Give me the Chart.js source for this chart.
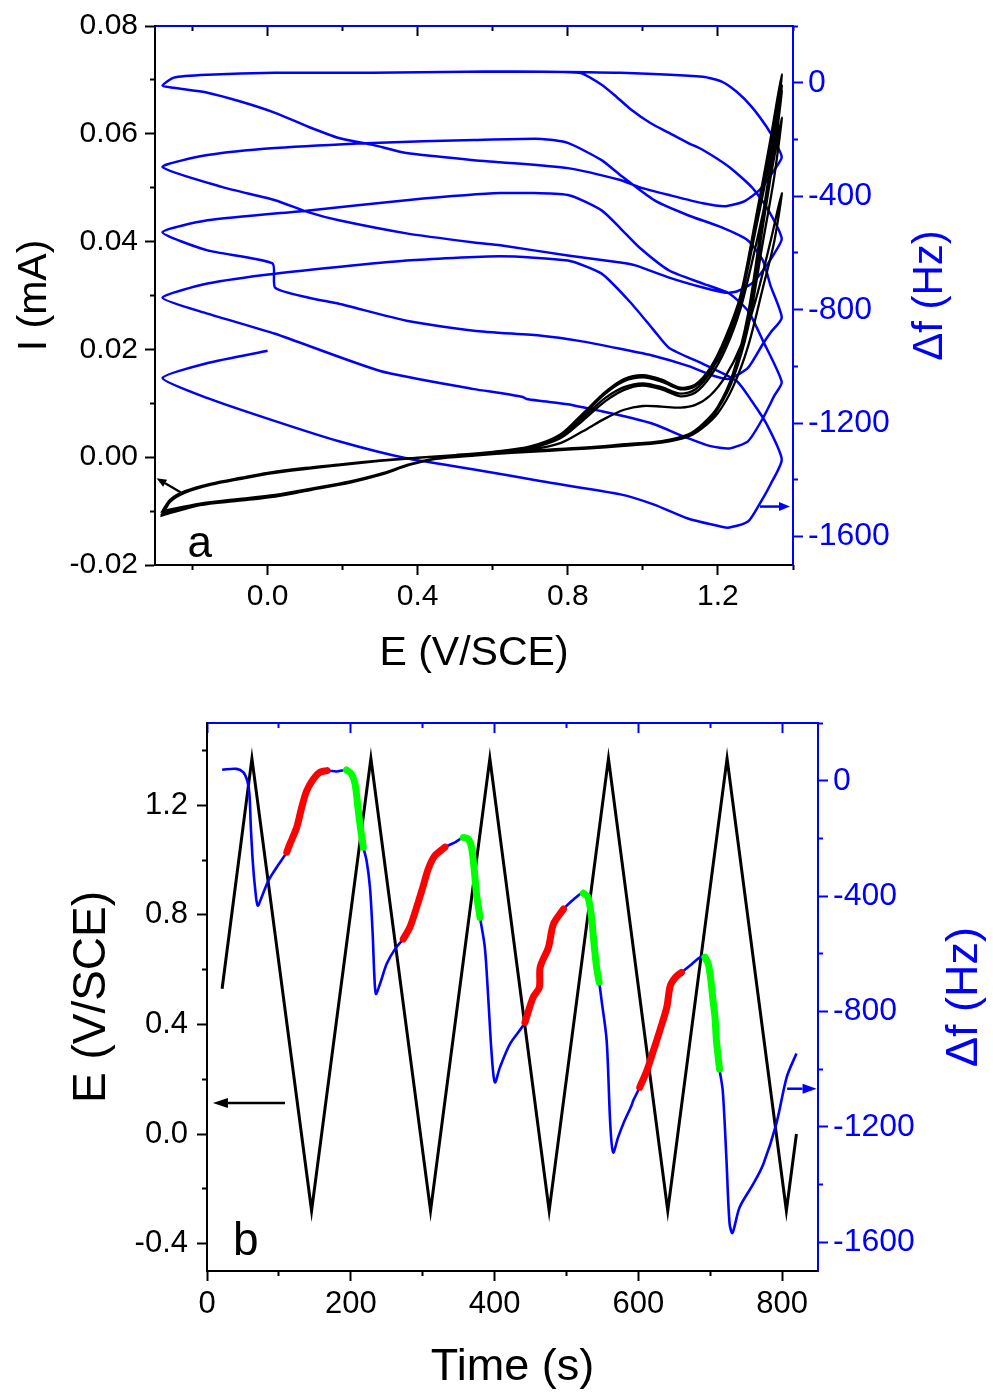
<!DOCTYPE html>
<html>
<head>
<meta charset="utf-8">
<title>EQCM: current and frequency shift during potential cycling</title>
<script src="https://cdn.jsdelivr.net/npm/chart.js@4.4.1/dist/chart.umd.min.js"></script>
<style>
  html, body { margin: 0; padding: 0; background: #fff; }
  #wrap { position: relative; width: 993px; height: 1396px; overflow: hidden; }
  canvas { position: absolute; left: 0; }
  #chartA { top: 0; }
  #chartB { top: 680px; }
</style>
</head>
<body>
<div id="wrap">
  <canvas id="chartA" width="993" height="680"></canvas>
  <canvas id="chartB" width="993" height="716"></canvas>
</div>
<script>
/* ── panel a : I and Δf against E ─────────────────────────────────────── */

// potential grid of the anodic and cathodic sweeps (V/SCE)
const cvAnodicE = [-0.28, -0.26, -0.22, -0.15, -0.07, 0.0, 0.1, 0.2, 0.3, 0.4, 0.5, 0.6, 0.7, 0.78, 0.84,
  0.9, 0.95, 1.0, 1.05, 1.1, 1.14, 1.18, 1.22, 1.26, 1.3, 1.34, 1.37];
const cvCathodicE = [1.35, 1.32, 1.28, 1.24, 1.2, 1.16, 1.12, 1.05, 0.95, 0.85, 0.75, 0.65, 0.55, 0.45,
  0.38, 0.3, 0.22, 0.12, 0.02, -0.08, -0.18, -0.28];

// current (mA) on each anodic sweep; null where the record had not started / had stopped
const cvAnodicI = [
  [null, null, null, null, null, null, null, null, null, null, 0.0004, 0.0008, 0.0014, 0.0026, 0.0048,
    0.0072, 0.0088, 0.0095, 0.0094, 0.0092, 0.0097, 0.0115, 0.0150, 0.0205, 0.0290, 0.0400, 0.0490],
  [-0.0100, -0.0079, -0.0063, -0.0049, -0.0038, -0.0029, -0.0020, -0.0013, -0.0006, -0.0001, 0.0004, 0.0009,
    0.0017, 0.0035, 0.0068, 0.0104, 0.0125, 0.0133, 0.0126, 0.0113, 0.0120, 0.0150, 0.0200, 0.0275, 0.0390, 0.0520, 0.0630],
  [-0.0104, -0.0080, -0.0064, -0.0050, -0.0039, -0.0030, -0.0021, -0.0013, -0.0006, -0.0001, 0.0004, 0.0009,
    0.0018, 0.0038, 0.0073, 0.0110, 0.0130, 0.0137, 0.0130, 0.0118, 0.0126, 0.0158, 0.0210, 0.0290, 0.0420, 0.0560, 0.0680],
  [-0.0106, -0.0081, -0.0064, -0.0050, -0.0039, -0.0030, -0.0021, -0.0013, -0.0006, -0.0001, 0.0004, 0.0010,
    0.0019, 0.0040, 0.0078, 0.0118, 0.0141, 0.0148, 0.0140, 0.0126, 0.0132, 0.0163, 0.0218, 0.0295, 0.0430, 0.0575, 0.0690],
  [-0.0107, -0.0082, -0.0065, -0.0051, -0.0040, -0.0031, -0.0022, -0.0014, -0.0007, -0.0001, 0.0004, 0.0010,
    0.0020, 0.0042, 0.0081, 0.0121, 0.0145, 0.0152, 0.0144, 0.0129, 0.0135, 0.0166, 0.0222, 0.0300, 0.0440, 0.0590, 0.0710],
  [-0.0108, -0.0083, -0.0066, -0.0051, -0.0040, -0.0031, null, null, null, null, null, null, null, null, null,
    null, null, null, null, null, null, null, null, null, null, null, null]
];

// current (mA) on each cathodic sweep
const cvCathodicI = [
  [0.0400, 0.0315, 0.0205, 0.0130, 0.0082, 0.0055, 0.0038, 0.0027, 0.0021, 0.0016, 0.0012, 0.0008, 0.0003,
    -0.0003, -0.0014, -0.0031, -0.0045, -0.0058, -0.0070, -0.0078, -0.0086, -0.0100],
  [0.0520, 0.0400, 0.0240, 0.0145, 0.0090, 0.0058, 0.0040, 0.0028, 0.0022, 0.0017, 0.0013, 0.0009, 0.0004,
    -0.0002, -0.0013, -0.0031, -0.0046, -0.0059, -0.0071, -0.0079, -0.0087, -0.0104],
  [0.0565, 0.0430, 0.0255, 0.0150, 0.0092, 0.0060, 0.0041, 0.0029, 0.0023, 0.0018, 0.0013, 0.0009, 0.0004,
    -0.0002, -0.0013, -0.0032, -0.0046, -0.0059, -0.0072, -0.0080, -0.0088, -0.0106],
  [0.0575, 0.0440, 0.0260, 0.0152, 0.0093, 0.0061, 0.0042, 0.0029, 0.0023, 0.0018, 0.0013, 0.0009, 0.0004,
    -0.0002, -0.0013, -0.0032, -0.0047, -0.0060, -0.0072, -0.0080, -0.0089, -0.0107],
  [0.0590, 0.0450, 0.0265, 0.0155, 0.0094, 0.0062, 0.0042, 0.0030, 0.0024, 0.0018, 0.0014, 0.0009, 0.0004,
    -0.0002, -0.0014, -0.0033, -0.0047, -0.0060, -0.0073, -0.0081, -0.0089, -0.0108]
];

// Δf (Hz) against E, one pair of arrays per potential cycle, in recording order
const dfCycleE = [
  [0.53, 0.73, 0.94, 1.16, 1.21, 1.25, 1.29, 1.33, 1.35, 1.37, 1.35, 1.31, 1.27, 1.22, 1.16, 1.07, 0.99, 0.94,
    0.80, 0.62, 0.55, 0.37, 0.28, 0.19, 0.11, 0.02, -0.07, -0.16, -0.25, -0.28],
  [-0.25, -0.16, 0.02, 0.28, 0.53, 0.83, 0.89, 0.93, 0.97, 1.02, 1.07, 1.12, 1.16, 1.23, 1.29, 1.33, 1.37,
    1.35, 1.32, 1.29, 1.25, 1.22, 1.16, 1.07, 0.98, 0.94, 0.80, 0.62, 0.55, 0.37, 0.19, 0.11, 0.02, -0.12, -0.28],
  [-0.16, 0.02, 0.28, 0.55, 0.73, 0.80, 0.89, 0.94, 1.03, 1.12, 1.21, 1.28, 1.32, 1.34, 1.37, 1.34, 1.32, 1.28,
    1.23, 1.19, 1.12, 1.03, 0.94, 0.83, 0.73, 0.55, 0.37, 0.19, 0.11, 0.02, 0.013, -0.16, -0.28],
  [-0.16, 0.11, 0.37, 0.62, 0.80, 0.89, 0.94, 0.99, 1.07, 1.16, 1.23, 1.28, 1.32, 1.37, 1.35, 1.32, 1.28, 1.23,
    1.18, 1.12, 1.03, 0.97, 0.89, 0.80, 0.73, 0.69, 0.68, 0.62, 0.55, 0.30, 0.02, -0.16, -0.28],
  [-0.16, 0.02, 0.37, 0.62, 0.80, 0.89, 0.97, 1.03, 1.07, 1.16, 1.25, 1.29, 1.33, 1.37, 1.34, 1.31, 1.28, 1.23,
    1.21, 1.12, 1.03, 0.94, 0.73, 0.55, 0.37, 0.19, 0.02, -0.16, -0.28, -0.16, 0.0]
];
const dfCycleHz = [
  [39, 39, 35, 21, 4, -32, -85, -156, -202, -262, -308, -379, -418, -435, -425, -396, -368, -343,
    -301, -280, -273, -248, -219, -195, -156, -106, -67, -35, -18, -11],
  [18, 28, 35, 35, 39, 35, -7, -50, -96, -142, -177, -212, -237, -297, -368, -439, -549,
    -602, -662, -708, -736, -740, -722, -687, -644, -634, -609, -573, -563, -531, -485, -457, -414, -368, -297],
  [-255, -230, -212, -202, -198, -212, -273, -326, -414, -467, -510, -556, -627, -715, -828, -881, -920, -1005,
    -1044, -1034, -998, -963, -938, -910, -892, -874, -839, -779, -758, -722, -637, -591, -527],
  [-485, -450, -414, -389, -396, -450, -513, -580, -662, -708, -743, -804, -910, -1055, -1104, -1182, -1264, -1289,
    -1281, -1253, -1204, -1182, -1158, -1133, -1122, -1115, -1108, -1094, -1080, -1016, -885, -814, -758],
  [-708, -673, -627, -612, -627, -673, -779, -874, -935, -991, -1051, -1122, -1204, -1328, -1416, -1487, -1547, -1568,
    -1565, -1536, -1487, -1451, -1405, -1363, -1324, -1264, -1193, -1112, -1041, -988, -945]
];

const aTicksE = [0.0, 0.4, 0.8, 1.2];
const aTicksI = [-0.02, 0.0, 0.02, 0.04, 0.06, 0.08];
const aTicksHz = [-1600, -1200, -800, -400, 0];

/* ── panel b : E and Δf against time ──────────────────────────────────── */

const eTime = [21, 62.5, 145.5, 228, 311, 393.5, 476, 558.5, 641, 723.5, 806, 820];
const ePot = [0.53, 1.37, -0.28, 1.37, -0.28, 1.37, -0.28, 1.37, -0.28, 1.37, -0.28, 0.0];

const fTime = [21, 41, 50.6, 56, 59, 61, 63.6, 66.8, 70.5, 76, 85.3, 97, 111, 115.4, 124.8, 131.7, 138.7, 148,
  157, 167, 180, 194, 201, 206, 210.5, 214, 217.5, 222, 226.7, 230.5, 232.7, 235, 240.6, 250, 261.5, 273,
  282.3, 291.6, 300.9, 307.8, 317, 331, 345, 356.5, 363.5, 368, 371.4, 375, 379.8, 386.5, 391.2, 396, 400.5,
  407.5, 421.4, 442.3, 453.7, 462.3, 463.5, 475, 482, 496, 519, 523.5, 530, 535, 538.4, 542, 545.6, 549, 556,
  561, 565, 572, 579, 590.6, 593, 602, 612, 621, 630, 639.6, 644.5, 651.5, 660, 672, 686.5, 692.6, 697.3,
  700.5, 704, 706.7, 708.7, 713, 717.5, 722.5, 727, 731, 741, 760, 774, 792, 806.5, 820];
const fShift = [38, 41, 29, 0, -46, -162, -277, -370, -433, -404, -347, -300, -248, -219, -162, -93, -35, 6,
  29, 35, 32, 37, 23, -12, -104, -173, -231, -277, -370, -532, -670, -739, -705, -635, -584, -549,
  -508, -439, -364, -306, -260, -231, -214, -197, -202, -231, -300, -393, -474, -578, -751, -947, -1046,
  -994, -913, -838, -751, -717, -647, -578, -497, -445, -393, -390, -404, -474, -566, -647, -699, -763, -901,
  -1190, -1289, -1236, -1190, -1126, -1109, -1063, -1005, -936, -866, -786, -711, -682, -665, -641, -612, -612, -635,
  -682, -763, -820, -901, -1000, -1075, -1306, -1536, -1568, -1479, -1398, -1329, -1190, -1028, -946];

// stretches of the frequency trace highlighted in red and in green (s)
const redSpans = [[111, 167], [273, 331], [442.3, 496], [602, 660]];
const greenSpans = [[194, 217.5], [356.5, 379.8], [523.5, 545.6], [692.6, 713]];

const bTicksT = [0, 200, 400, 600, 800];
const bTicksE = [-0.4, 0.0, 0.4, 0.8, 1.2];
const bTicksHz = [-1600, -1200, -800, -400, 0];

/* ── helpers ──────────────────────────────────────────────────────────── */

const FONT = '"Liberation Sans", Arial, sans-serif';
const BLUE = '#0000ff';
Chart.defaults.font.family = FONT;
Chart.defaults.color = '#000';

function setTicks(values) {
  return axis => {
    axis.ticks = values
      .filter(v => v >= axis.min - 1e-9 && v <= axis.max + 1e-9)
      .map(v => ({ value: v }));
  };
}
function setSize(px) {
  return axis => { if (axis.isHorizontal()) axis.height = px; else axis.width = px; };
}
// short unlabelled ticks halfway between the labelled ones
function halfSteps(major) {
  const step = major[1] - major[0];
  const out = [];
  for (let i = -1; i < major.length; i++) out.push(+(major[0] + step * (i + 0.5)).toFixed(6));
  return out;
}

// one labelled axis + a zero-width twin that carries the minor ticks
function axisPair(id, o) {
  const dir = o.inward ? -1 : 1;
  const line = o.line || o.color;
  const tick = o.tick || line;
  const axisLetter = (o.pos === 'top' || o.pos === 'bottom') ? 'x' : 'y';
  const major = {
    type: 'linear', axis: axisLetter, position: o.pos, min: o.min, max: o.max, weight: 1,
    afterBuildTicks: setTicks(o.major), afterFit: setSize(o.size),
    border: { display: true, color: line, width: 2 },
    grid: { drawOnChartArea: false, drawTicks: true, tickLength: 10 * dir, tickWidth: 2, tickColor: tick },
    ticks: o.fmt
      ? { display: true, autoSkip: false, maxRotation: 0, color: o.color, padding: o.pad,
          font: { size: o.fontSize }, callback: o.fmt }
      : { display: false },
    title: o.title
      ? { display: true, text: o.title, color: o.color, font: { size: o.titleSize }, padding: o.titlePad }
      : { display: false }
  };
  const minor = {
    type: 'linear', axis: axisLetter, position: o.pos, min: o.min, max: o.max, weight: 0,
    afterBuildTicks: setTicks(halfSteps(o.major)), afterFit: setSize(0),
    border: { display: false },
    grid: { drawOnChartArea: false, drawTicks: true, tickLength: 5 * dir, tickWidth: 2, tickColor: tick },
    ticks: { display: false },
    title: { display: false }
  };
  return { [id]: major, [id + 'Minor']: minor };
}

// arrows, panel letter and the right-hand title (read bottom to top)
const extras = {
  id: 'extras',
  afterDraw(chart, args, o) {
    const ctx = chart.ctx;
    ctx.save();
    (o.arrows || []).forEach(a => {
      const xs = chart.scales[a.xAxis], ys = chart.scales[a.yAxis];
      const x1 = xs.getPixelForValue(a.from[0]), y1 = ys.getPixelForValue(a.from[1]);
      const x2 = xs.getPixelForValue(a.to[0]), y2 = ys.getPixelForValue(a.to[1]);
      const ang = Math.atan2(y2 - y1, x2 - x1);
      const c = Math.cos(ang), s = Math.sin(ang);
      ctx.strokeStyle = ctx.fillStyle = a.color;
      ctx.lineWidth = a.width;
      ctx.beginPath();
      ctx.moveTo(x1, y1);
      ctx.lineTo(x2 - a.head * c, y2 - a.head * s);
      ctx.stroke();
      ctx.beginPath();
      ctx.moveTo(x2, y2);
      ctx.lineTo(x2 - a.head * c + a.half * s, y2 - a.head * s - a.half * c);
      ctx.lineTo(x2 - a.head * c - a.half * s, y2 - a.head * s + a.half * c);
      ctx.closePath();
      ctx.fill();
    });
    if (o.letter) {
      const l = o.letter;
      ctx.fillStyle = '#000';
      ctx.font = l.size + 'px ' + FONT;
      ctx.textAlign = 'center';
      ctx.textBaseline = 'alphabetic';
      ctx.fillText(l.text, chart.scales[l.xAxis].getPixelForValue(l.at[0]), chart.scales[l.yAxis].getPixelForValue(l.at[1]));
    }
    if (o.sideTitle) {
      const t = o.sideTitle;
      const area = chart.chartArea;
      ctx.translate(t.x, (area.top + area.bottom) / 2);
      ctx.rotate(-Math.PI / 2);
      ctx.fillStyle = t.color;
      ctx.font = t.size + 'px ' + FONT;
      ctx.textAlign = 'center';
      ctx.textBaseline = 'middle';
      ctx.fillText(t.text, 0, 0);
    }
    ctx.restore();
  }
};

const baseOptions = {
  responsive: false,
  animation: false,
  devicePixelRatio: 1,
  layout: { padding: 0, autoPadding: false },
  events: []
};

/* ── panel a ──────────────────────────────────────────────────────────── */

const cvPoints = [];
cvAnodicI.forEach((sweep, k) => {
  sweep.forEach((v, i) => { if (v !== null) cvPoints.push({ x: cvAnodicE[i], y: v }); });
  if (cvCathodicI[k]) cvCathodicI[k].forEach((v, i) => cvPoints.push({ x: cvCathodicE[i], y: v }));
});
const dfPointsA = [];
dfCycleE.forEach((es, k) => es.forEach((e, i) => dfPointsA.push({ x: e, y: dfCycleHz[k][i] })));

new Chart(document.getElementById('chartA'), {
  type: 'scatter',
  data: {
    datasets: [
      { data: cvPoints, xAxisID: 'x', yAxisID: 'y', showLine: true, borderColor: '#000',
        borderWidth: 2.3, pointRadius: 0, tension: 0.3 },
      { data: dfPointsA, xAxisID: 'x', yAxisID: 'y2', showLine: true, borderColor: BLUE,
        borderWidth: 2.5, pointRadius: 0, tension: 0.2 }
    ]
  },
  options: Object.assign({}, baseOptions, {
    plugins: {
      legend: { display: false },
      tooltip: { enabled: false },
      extras: {
        arrows: [
          { xAxis: 'x', yAxis: 'y', from: [-0.232, -0.0065], to: [-0.296, -0.0039], color: '#000', width: 2.2, head: 10, half: 4 },
          { xAxis: 'x', yAxis: 'y2', from: [1.312, -1494], to: [1.392, -1494], color: BLUE, width: 2.5, head: 11, half: 4.5 }
        ],
        letter: { text: 'a', xAxis: 'x', yAxis: 'y', at: [-0.181, -0.0185], size: 44 },
        sideTitle: { text: 'Δf (Hz)', x: 930, color: BLUE, size: 42 }
      }
    },
    scales: Object.assign({},
      axisPair('x', { pos: 'bottom', min: -0.3, max: 1.4, major: aTicksE, size: 115, color: '#000',
        fmt: v => v.toFixed(1), pad: 4, fontSize: 30, title: 'E (V/SCE)', titleSize: 41, titlePad: { bottom: 2 } }),
      axisPair('xTop', { pos: 'top', min: -0.3, max: 1.4, major: aTicksE, size: 26, color: '#000', line: BLUE,
        tick: '#000', inward: true }),
      axisPair('y', { pos: 'left', min: -0.02, max: 0.08, major: aTicksI, size: 155, color: '#000',
        fmt: v => v.toFixed(2), pad: 7, fontSize: 30, title: 'I (mA)', titleSize: 41, titlePad: { top: 10 } }),
      axisPair('y2', { pos: 'right', min: -1700, max: 200, major: aTicksHz, size: 200, color: BLUE,
        fmt: v => String(Math.round(v)), pad: 5, fontSize: 32 })
    )
  }),
  plugins: [extras]
});

/* ── panel b ──────────────────────────────────────────────────────────── */

const potPoints = eTime.map((t, i) => ({ x: t, y: ePot[i] }));
const freqPoints = fTime.map((t, i) => ({ x: t, y: fShift[i] }));
function spanPoints(spans) {
  const out = [];
  spans.forEach(([a, b]) => {
    fTime.forEach((t, i) => { if (t >= a && t <= b) out.push({ x: t, y: fShift[i] }); });
    out.push({ x: b, y: null });
  });
  return out;
}

new Chart(document.getElementById('chartB'), {
  type: 'scatter',
  data: {
    datasets: [
      { data: spanPoints(greenSpans), xAxisID: 'x', yAxisID: 'y2', showLine: true, borderColor: '#00ff00',
        borderWidth: 7, borderCapStyle: 'round', borderJoinStyle: 'round', pointRadius: 0, tension: 0.3, spanGaps: false },
      { data: spanPoints(redSpans), xAxisID: 'x', yAxisID: 'y2', showLine: true, borderColor: '#ff0000',
        borderWidth: 7, borderCapStyle: 'round', borderJoinStyle: 'round', pointRadius: 0, tension: 0.3, spanGaps: false },
      { data: freqPoints, xAxisID: 'x', yAxisID: 'y2', showLine: true, borderColor: BLUE,
        borderWidth: 2.6, pointRadius: 0, tension: 0.3 },
      { data: potPoints, xAxisID: 'x', yAxisID: 'y', showLine: true, borderColor: '#000',
        borderWidth: 3, pointRadius: 0, tension: 0 }
    ]
  },
  options: Object.assign({}, baseOptions, {
    plugins: {
      legend: { display: false },
      tooltip: { enabled: false },
      extras: {
        arrows: [
          { xAxis: 'x', yAxis: 'y', from: [108.5, 0.113], to: [8.3, 0.113], color: '#000', width: 2.5, head: 15, half: 5 },
          { xAxis: 'x', yAxis: 'y2', from: [807, -1068], to: [848, -1068], color: BLUE, width: 2.5, head: 14, half: 5 }
        ],
        letter: { text: 'b', xAxis: 'x', yAxis: 'y', at: [54, -0.441], size: 46 },
        sideTitle: { text: 'Δf (Hz)', x: 965, color: BLUE, size: 45 }
      }
    },
    scales: Object.assign({},
      axisPair('x', { pos: 'bottom', min: 0, max: 850, major: bTicksT, size: 125, color: '#000',
        fmt: v => String(Math.round(v)), pad: 5, fontSize: 31, title: 'Time (s)', titleSize: 45, titlePad: { bottom: 1 } }),
      axisPair('xTop', { pos: 'top', min: 0, max: 850, major: bTicksT, size: 43, color: BLUE, inward: true }),
      axisPair('y', { pos: 'left', min: -0.5, max: 1.5, major: bTicksE, size: 207, color: '#000',
        fmt: v => v.toFixed(1), pad: 9, fontSize: 31, title: 'E (V/SCE)', titleSize: 46, titlePad: { top: 65 } }),
      axisPair('y2', { pos: 'right', min: -1700, max: 200, major: bTicksHz, size: 175, color: BLUE,
        fmt: v => String(Math.round(v)), pad: 5, fontSize: 32 })
    )
  }),
  plugins: [extras]
});
</script>
</body>
</html>
